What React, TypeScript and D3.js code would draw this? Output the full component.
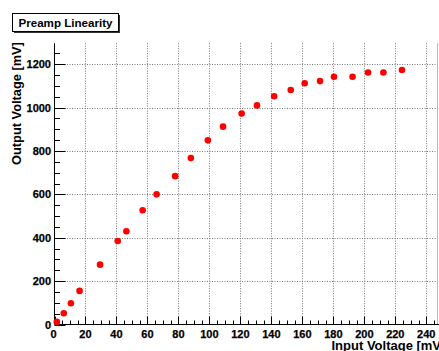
import React from "react";
import * as d3 from "d3";

// values
const inputVoltage = [1.5, 6, 10.6, 16.2, 29.4, 40.8, 46.4, 56.9, 65.9, 77.9, 88, 99, 108.8, 120.8, 130.7, 141.8, 152.5, 161.5, 171.4, 180.4, 192.4, 202.4, 212.3, 224.3];
const outputVoltage = [12, 52, 98, 155, 276, 385, 430, 527, 600, 684, 767, 849, 912, 973, 1010, 1052, 1081, 1112, 1122, 1142, 1142, 1162, 1162, 1173];
const xTicks = [0, 20, 40, 60, 80, 100, 120, 140, 160, 180, 200, 220, 240];
const yTicks = [0, 200, 400, 600, 800, 1000, 1200];
const title = "Preamp Linearity";
const xTitle = "Input Voltage [mV]";
const yTitle = "Output Voltage [mV]";

const W = 439, H = 351;
const font = "'Liberation Sans', Arial, Helvetica, sans-serif";

export default function App() {
  const x = d3.scaleLinear().domain([0, 240]).range([54.5, 426.3]);
  const y = d3.scaleLinear().domain([0, 1200]).range([324.5, 64.2]);
  const left = x(0), bottom = y(0);
  const top = y(1297), right = x(246.8);

  const xMinor = d3.range(0, 247, 5).filter(v => v % 20 !== 0);
  const yMinor = d3.range(0, 1297, 50).filter(v => v % 200 !== 0);

  return (
    <svg width={W} height={H} style={{ position: "absolute", left: 0, top: 0, background: "#fff" }}>
      {/* grid */}
      <g stroke="#777" strokeWidth={1} strokeDasharray="1,1.5">
        {xTicks.filter(v => v > 0).map(v => (
          <line key={"gx" + v} x1={Math.round(x(v)) + 0.5} x2={Math.round(x(v)) + 0.5} y1={top} y2={bottom} />
        ))}
        {yTicks.filter(v => v > 0).map(v => (
          <line key={"gy" + v} x1={left} x2={right} y1={Math.round(y(v)) + 0.5} y2={Math.round(y(v)) + 0.5} />
        ))}
      </g>
      {/* right edge */}
      <line x1={437.5} x2={437.5} y1={top} y2={bottom} stroke="#bbb" />

      {/* axes */}
      <g stroke="#000" strokeWidth={1}>
        <line x1={left} x2={left} y1={top} y2={bottom} />
        <line x1={left} x2={W} y1={bottom} y2={bottom} />
        {xTicks.map(v => (
          <line key={"tx" + v} x1={Math.round(x(v)) + 0.5} x2={Math.round(x(v)) + 0.5} y1={bottom} y2={bottom - 8} />
        ))}
        {xMinor.map(v => (
          <line key={"mx" + v} x1={Math.round(x(v)) + 0.5} x2={Math.round(x(v)) + 0.5} y1={bottom} y2={bottom - 4} />
        ))}
        {yTicks.map(v => (
          <line key={"ty" + v} x1={left} x2={left + 11} y1={Math.round(y(v)) + 0.5} y2={Math.round(y(v)) + 0.5} />
        ))}
        {yMinor.map(v => (
          <line key={"my" + v} x1={left} x2={left + 5.5} y1={Math.round(y(v)) + 0.5} y2={Math.round(y(v)) + 0.5} />
        ))}
      </g>

      {/* tick labels */}
      <g fontFamily={font} fontWeight="bold" fontSize={11} fill="#000" stroke="#000" strokeWidth={0.25}>
        {xTicks.map(v => (
          <text key={"lx" + v} x={x(v) - (v === 0 ? 1 : 0)} y={338} textAnchor="middle">{v}</text>
        ))}
        {yTicks.map(v => (
          <text key={"ly" + v} x={51} y={y(v) + 4} textAnchor="end">{v}</text>
        ))}
      </g>

      {/* axis titles */}
      <text x={331.5} y={350} textAnchor="start" fontFamily={font} fontWeight="bold" fontSize={13}>{xTitle}</text>
      <text transform={`translate(20.5,${top - 1}) rotate(-90)`} textAnchor="end" fontFamily={font} fontWeight="bold" fontSize={12.8}>{yTitle}</text>

      {/* points */}
      <g fill="#ff0000">
        {inputVoltage.map((v, i) => (
          <circle key={i} cx={x(v)} cy={y(outputVoltage[i])} r={3.3} />
        ))}
      </g>

      {/* title box */}
      <rect x={14} y={15} width={106} height={18} fill="#333" />
      <rect x={12.5} y={13.5} width={106} height={18} fill="#fff" stroke="#000" />
      <text x={65.5} y={26.5} textAnchor="middle" fontFamily={font} fontWeight="bold" fontSize={11.6}>{title}</text>
    </svg>
  );
}
